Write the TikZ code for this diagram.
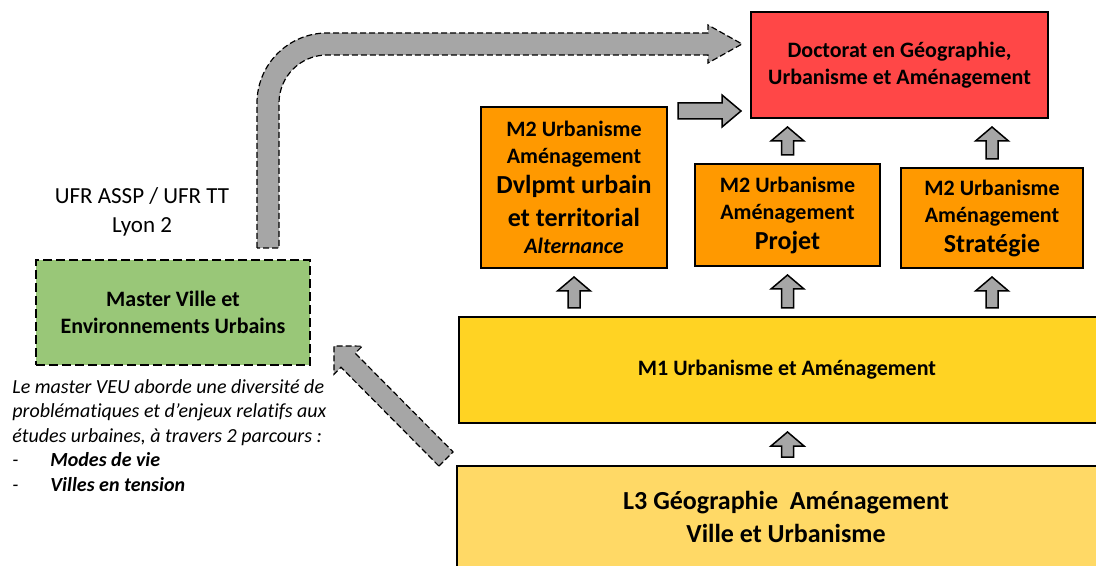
\documentclass[tikz,border=0pt]{standalone}
\usepackage{fontspec}
\setmainfont{Carlito}[Ligatures=NoCommon]
\usetikzlibrary{calc}

\definecolor{docred}{RGB}{255,71,71}
\definecolor{mtwo}{RGB}{255,153,0}
\definecolor{mone}{RGB}{255,211,35}
\definecolor{lthree}{RGB}{255,217,102}
\definecolor{veugreen}{RGB}{153,199,120}
\definecolor{arrowgray}{RGB}{166,166,166}

\newcommand{\largerline}[1]{{\fontsize{13}{16.5}\selectfont #1}}

\tikzset{
  box/.style={draw=black, line width=1pt, align=center, inner sep=2pt,
    font=\bfseries\fontsize{11}{13.5}\selectfont},
  % shaft half width / head half width / head length / gap
  blockarrow/.style n args={4}{fill=arrowgray, draw=black, line width=0.75pt,
    to path={
      ($(\tikztostart)!#4!(\tikztotarget)$) coordinate (ba-s)
      ($(\tikztotarget)!#4!(\tikztostart)$) coordinate (ba-t)
      ($(ba-t)!#3!(ba-s)$) coordinate (ba-h)
      ($(ba-s)!#1!90:(ba-t)$) -- ($(ba-h)!#1!90:(ba-t)$) -- ($(ba-h)!#2!90:(ba-t)$)
      -- (ba-t) -- ($(ba-h)!#2!-90:(ba-t)$) -- ($(ba-h)!#1!-90:(ba-t)$)
      -- ($(ba-s)!#1!-90:(ba-t)$) -- cycle}},
  uparrow/.style={blockarrow={3pt}{8.25pt}{7pt}{4pt}},
  dasharrow/.style={line width=0.6pt, dash pattern=on 3pt off 1.5pt}
}

\begin{document}
\begin{tikzpicture}[x=0.5pt, y=-0.5pt]
\useasboundingbox (0,0) rectangle (1096,566);
\clip (0,0) rectangle (1096,566);

\node[box, fill=docred, minimum width=148.5pt, minimum height=53pt] (doc) at (899.5,65)
  {Doctorat en Géographie,\\Urbanisme et Aménagement};
\node[box, fill=mtwo, minimum width=93pt, minimum height=80.5pt] (m2a) at (574,187.5)
  {M2 Urbanisme\\Aménagement\\[1.5pt]\largerline{Dvlpmt urbain}\\[3pt]\largerline{et territorial}\\\textit{Alternance}};
\node[box, fill=mtwo, minimum width=92.5pt, minimum height=51pt] (m2b) at (787.5,215)
  {M2 Urbanisme\\Aménagement\\[1.5pt]\largerline{Projet}};
\node[box, fill=mtwo, minimum width=91pt, minimum height=50pt] (m2c) at (992,218)
  {M2 Urbanisme\\Aménagement\\[1.5pt]\largerline{Stratégie}};
\node[box, fill=mone, minimum width=328pt, minimum height=53pt] (m1) at (787,370)
  {M1 Urbanisme et Aménagement};
\node[box, fill=lthree, minimum width=329pt, minimum height=51pt,
  font=\bfseries\fontsize{13}{16.5}\selectfont] (l3) at (786,517)
  {L3 Géographie \ Aménagement\\Ville et Urbanisme};

\node[box, fill=veugreen, line width=1pt, dash pattern=on 4.5pt off 2pt,
  minimum width=137pt, minimum height=52.5pt] (veu) at (173,312.5)
  {Master Ville et\\Environnements Urbains};
\node[align=center, font=\fontsize{11.5}{14.5}\selectfont] (ufr) at (142,212)
  {UFR ASSP / UFR TT\\Lyon 2};
\node[anchor=north west, align=left, inner sep=0pt,
  font=\itshape\fontsize{10}{12.25}\selectfont] (veutext) at (12,379)
  {Le master VEU aborde une diversité de\\problématiques et d’enjeux relatifs aux\\études urbaines, à travers 2 parcours :\\\makebox[19pt][l]{-}\textbf{Modes de vie}\\\makebox[19pt][l]{-}\textbf{Villes en tension}};

% arrows
\foreach \lo/\hi/\col in {m1/m2a/m2a, m1/m2b/m2b, m1/m2c/m2c, m2b/doc/m2b, m2c/doc/m2c, l3/m1/m2b}
  \draw[uparrow] (\lo.north -| \col) to (\hi.south -| \col);

\coordinate (hstart) at ($(m2a.north east)+(10,5)$);
\coordinate (hend) at ($(doc.west |- hstart)+(-9,0)$);
\draw[blockarrow={4pt}{8pt}{9.5pt}{0pt}] (hstart) to (hend);

\coordinate (dtail) at ($(l3.north west)+(-10,-6)$);
\coordinate (dtip) at ($(veu.south east)+(23,-20)$);
\draw[blockarrow={5pt}{10pt}{10pt}{0pt}, dasharrow] (dtail) to (dtip);

\draw[fill=arrowgray, dasharrow] (257,248) -- (257,103) .. controls (257,64.4) and (288.4,33) .. (327,33)
  -- (708,33) -- (708,25) -- (742,44) -- (708,63) -- (708,55) -- (327,55)
  .. controls (300.5,55) and (279,76.5) .. (279,103) -- (279,248) -- cycle;
\end{tikzpicture}
\end{document}
